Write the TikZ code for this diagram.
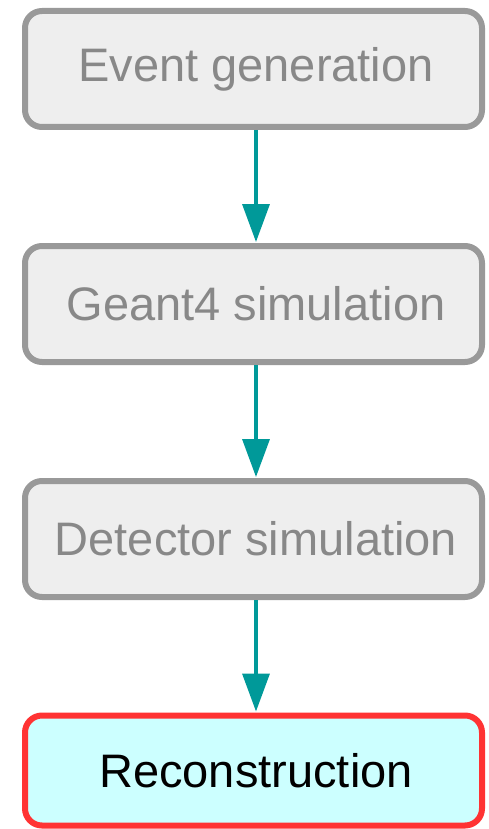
\documentclass[tikz,border=0pt]{standalone}
\usepackage{fontspec}
\setmainfont{Liberation Sans}
\usetikzlibrary{arrows.meta}
\definecolor{boxgray}{HTML}{999999}
\definecolor{boxfill}{HTML}{EEEEEE}
\definecolor{textgray}{HTML}{888888}
\definecolor{recoline}{HTML}{FF3333}
\definecolor{recofill}{HTML}{CCFFFF}
\definecolor{flowteal}{HTML}{009999}
\tikzset{
  stage/.style={draw=boxgray, fill=boxfill, text=textgray, line width=6pt,
    rounded corners=17pt, minimum width=457pt, minimum height=116pt,
    inner sep=0pt, font=\fontsize{47}{56}\selectfont},
  current/.style={stage, draw=recoline, fill=recofill, text=black, minimum height=110pt},
  flow/.style={draw=flowteal, line width=3.5pt,
    -{Triangle[length=38pt,width=27pt]}, shorten >=1pt}
}
\begin{document}
\begin{tikzpicture}[x=1pt,y=1pt]
  \useasboundingbox (0,0) rectangle (488,-829);
  \node[stage]   (gen)  at (253.5,-69)    {\hspace*{5pt}Event generation};
  \node[stage]   (g4)   at (253.5,-304)   {\hspace*{5pt}Geant4 simulation};
  \node[stage]   (det)  at (253.5,-539)   {\hspace*{5pt}Detector simulation};
  \node[current] (reco) at (253.5,-770.5) {\hspace*{5pt}Reconstruction};
  \draw[flow] (gen.south -| 256,0) -- (g4.north -| 256,0);
  \draw[flow] (g4.south -| 256,0) -- (det.north -| 256,0);
  \draw[flow] (det.south -| 256,0) -- (reco.north -| 256,0);
\end{tikzpicture}
\end{document}
